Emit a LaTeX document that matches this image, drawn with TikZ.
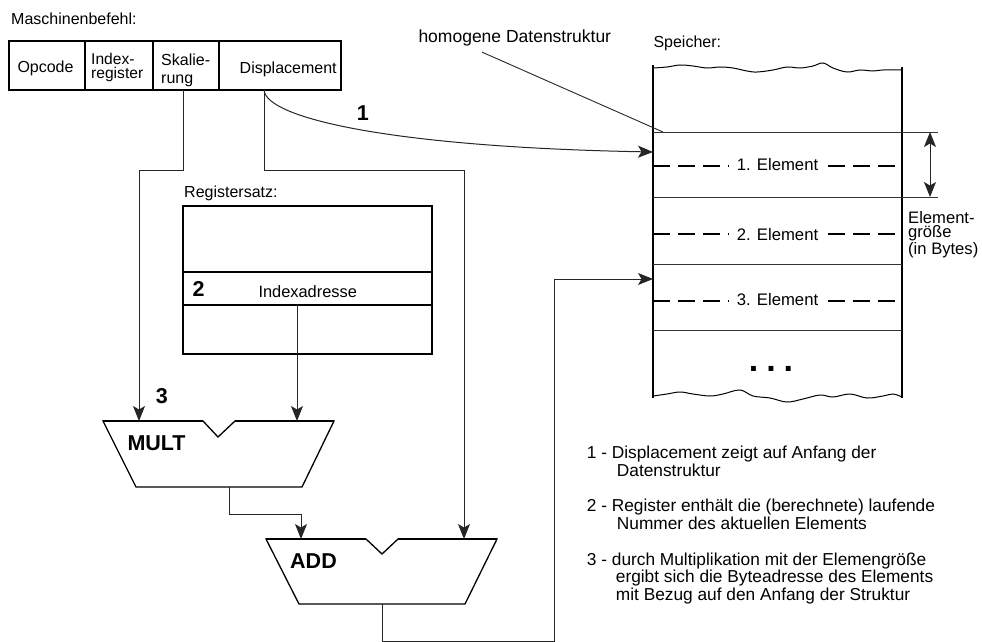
\documentclass[tikz,border=0pt]{standalone}
\usepackage{fontspec}
\setmainfont{Liberation Sans}
\usetikzlibrary{arrows.meta,calc}

\begin{document}
\begin{tikzpicture}[x=1pt,y=-1pt,
  conn/.style={draw=black!85,line width=1pt},
  tip/.style={-{Stealth[length=15pt,width=12pt,inset=3.5pt]}},
  cell/.style={draw,line width=1.2pt,inner sep=0pt,outer sep=0pt},
  row/.style={inner sep=0pt,outer sep=0pt,minimum width=249pt},
  sepline/.style={draw=black!80,line width=1pt},
  memwall/.style={draw=black,line width=2.2pt},
  dashline/.style={draw=black,line width=2pt,dash pattern=on 17pt off 8pt},
  alu/.style={draw=black,line width=1.3pt,line join=miter},
  lbl/.style={inner sep=0pt,anchor=base west,font=\fontsize{16}{16}\selectfont},
  note/.style={inner sep=0pt,anchor=base west,align=left,font=\fontsize{17.3}{17.2}\selectfont},
  num/.style={inner sep=0pt,anchor=base west,font=\fontsize{21.5}{21.5}\selectfont\bfseries},
  elemtxt/.style={anchor=base,fill=white,inner xsep=8pt,inner ysep=1pt,font=\fontsize{16.7}{16.7}\selectfont}]

\useasboundingbox (0,0) rectangle (982,642);

% ---------- instruction word ----------
% (multi-line labels are placed by the baseline of their last line)
\node[lbl] (tmasch) at (11,25) {Maschinenbefehl:};
\node[cell,minimum width=76pt,minimum height=49pt]  (opc)  at (47,65.5)  {};
\node[cell,minimum width=68pt,minimum height=49pt]  (idx)  at (119,65.5) {};
\node[cell,minimum width=66pt,minimum height=49pt]  (skal) at (186,65.5) {};
\node[cell,minimum width=122pt,minimum height=49pt] (disp) at (280,65.5) {};
\node[lbl] (topc) at (17.3,72.7) {Opcode};
\node[lbl,align=left,font=\fontsize{15.6}{13.6}\selectfont] (tidx) at (91,78.5) {Index-\\register};
\node[lbl,align=left,font=\fontsize{16}{17.6}\selectfont] (tskal) at (161,83.3) {Skalie-\\rung};
\node[lbl] (tdisp) at (239.5,74) {Displacement};

% ---------- register file ----------
\node[lbl] (treg) at (184,197.7) {Registersatz:};
\node[cell,minimum width=249pt,minimum height=66pt] (reg1) at (307.5,239) {};
\node[cell,minimum width=249pt,minimum height=33pt] (reg2) at (307.5,288.5) {};
\node[cell,minimum width=249pt,minimum height=49pt] (reg3) at (307.5,329.5) {};
\node[num] (n2) at (192.3,296) {2};
\node[lbl,font=\fontsize{16.4}{16.4}\selectfont] (tidxadr) at (258.3,297.7) {Indexadresse};

% ---------- memory ----------
\node[lbl] (tspeicher) at (653.3,47.7) {Speicher:};
\node[lbl,font=\fontsize{17.5}{17.5}\selectfont] (thomog) at (418.3,42.7) {homogene Datenstruktur};
\node[row,minimum height=65pt] (el1) at (777.5,164.5) {};
\node[row,minimum height=67pt] (el2) at (777.5,230.5) {};
\node[row,minimum height=66pt] (el3) at (777.5,297) {};

\draw[memwall] (653,65) -- (653,398);
\draw[memwall] (902,67) -- (902,398);
\draw[line width=1pt] plot[smooth,tension=0.6] coordinates {(653,68) (667,67) (680,65) (693,66) (707,68) (720,67) (733,68) (747,71) (757,72) (773,70) (787,67) (800,68) (813,66) (823,63) (833,68) (847,72) (860,70) (873,71) (883,70) (902,70)};
\draw[line width=1pt] plot[smooth,tension=0.6] coordinates {(653,396) (667,394) (680,392) (693,394) (710,396) (723,394) (740,390) (753,396) (770,398) (787,402) (803,399) (820,395) (833,397) (850,394) (867,398) (883,396) (893,394) (902,397)};

\draw[sepline] (el1.north west) -- ([xshift=36pt]el1.north east);
\draw[sepline] (el1.south west) -- ([xshift=36pt]el1.south east);
\draw[sepline] (el3.north west) -- (el3.north east);
\draw[sepline] (el3.south west) -- (el3.south east);

\draw[dashline] (653,166) -- (902,166);
\draw[dashline] (653,234) -- (902,234);
\draw[dashline] (653,301) -- (902,301);
\node[elemtxt] (t1) at (777.5,170.7) {1. Element};
\node[elemtxt] (t2) at (777.5,240) {2. Element};
\node[elemtxt] (t3) at (777.5,305.7) {3. Element};
\node[anchor=base,inner sep=0pt,font=\fontsize{34}{34}\selectfont\bfseries] (dots) at (771,371.7) {.\hspace{8pt}.\hspace{8pt}.};

\draw[conn,{Stealth[length=15pt,width=12pt,inset=3.5pt]}-{Stealth[length=15pt,width=12pt,inset=3.5pt]}]
  ([xshift=28pt]el1.north east) -- ([xshift=28pt]el1.south east);
\node[lbl,align=left,font=\fontsize{16.6}{14.4}\selectfont] (tgroesse) at (908,254) {Element-\\größe\\(in Bytes)};

\draw[conn,line width=0.9pt] (thomog.south west) ++(63.7,5.6) -- ([xshift=10pt]el1.north west);

% ---------- arithmetic units ----------
\draw[alu] (103,421) -- (203,421) -- (218,437) -- (235,421) -- (334,421) -- (302,487) -- (136,487) -- cycle;
\draw[line width=2pt] (103,421) -- (203,421) (235,421) -- (334,421);
\coordinate (m-in1) at (139,421);
\coordinate (m-in2) at (297,421);
\coordinate (m-out) at (229,487);
\node[num] (tmult) at (127.3,450) {MULT};
\node[num] (n3) at (155.7,403.3) {3};

\draw[alu] (266,539) -- (366,539) -- (382,554) -- (398,539) -- (497,539) -- (465,604) -- (299,604) -- cycle;
\draw[line width=2pt] (266,539) -- (366,539) (398,539) -- (497,539);
\coordinate (a-in1) at (301,539);
\coordinate (a-in2) at (464,539);
\coordinate (a-out) at (382,604);
\node[num] (tadd) at (290,568.3) {ADD};

% ---------- data paths ----------
\coordinate (in1) at (653,152);
\coordinate (in2) at (653,279);
\coordinate (bend) at (554,641);

\draw[conn,tip] ([xshift=-3pt]skal.south) -- ++(0,80) -| (m-in1);
\draw[conn,tip] ([xshift=-16pt]disp.south) -- ++(0,80) -| (a-in2);
\draw[conn,tip] ([xshift=-10.5pt]reg2.south) -- (m-in2);
\draw[conn,tip] (m-out) -- ++(0,27) -| (a-in1);
\draw[conn,tip] (a-out) |- (bend) |- (in2);
\draw[conn,tip] ([xshift=-16pt]disp.south) .. controls (266,118) and (390,147) .. (in1);
\node[num] (n1) at (356.7,120) {1};

% ---------- legend ----------
\node[note] (note1) at (586.7,476) {1 - Displacement zeigt auf Anfang der\\\hspace*{30pt}Datenstruktur};
\node[note] (note2) at (586.7,529) {2 - Register enthält die (berechnete) laufende\\\hspace*{30pt}Nummer des aktuellen Elements};
\node[note] (note3) at (586.7,600) {3 - durch Multiplikation mit der Elemengröße\\\hspace*{29pt}ergibt sich die Byteadresse des Elements\\\hspace*{29pt}mit Bezug auf den Anfang der Struktur};
\end{tikzpicture}
\end{document}
